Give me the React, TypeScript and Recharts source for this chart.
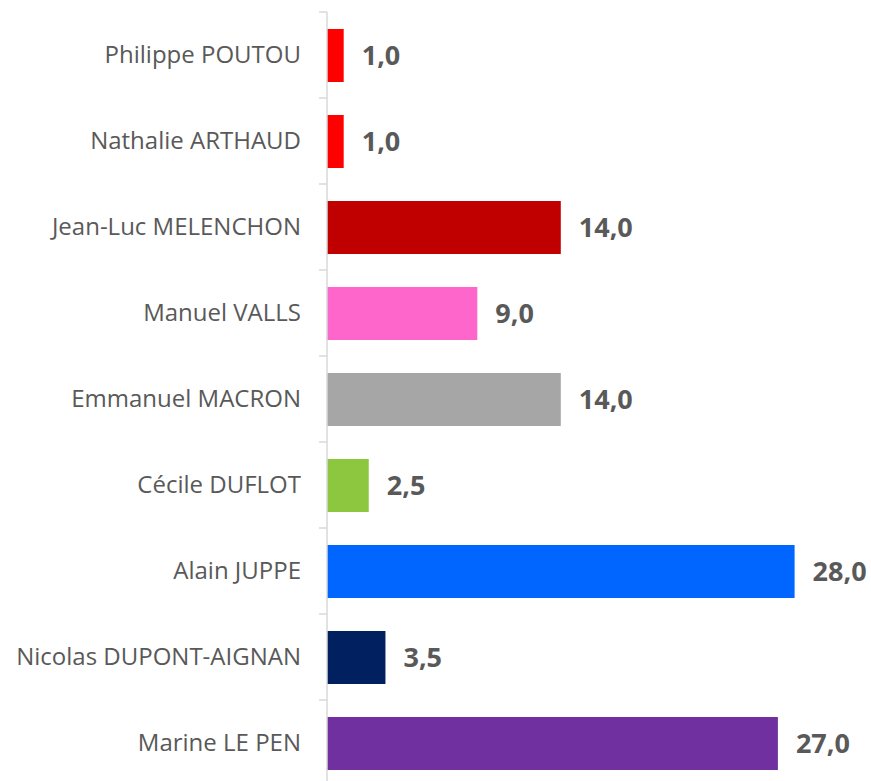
import { BarChart, Bar, XAxis, YAxis, Cell, LabelList } from "recharts";

const candidates = [
  "Philippe POUTOU",
  "Nathalie ARTHAUD",
  "Jean-Luc MELENCHON",
  "Manuel VALLS",
  "Emmanuel MACRON",
  "Cécile DUFLOT",
  "Alain JUPPE",
  "Nicolas DUPONT-AIGNAN",
  "Marine LE PEN",
];
const scores = [1.0, 1.0, 14.0, 9.0, 14.0, 2.5, 28.0, 3.5, 27.0];
const barColors = ["#FF0000", "#FF0000", "#C00000", "#FF66CC", "#A6A6A6", "#8DC63F", "#0066FF", "#002060", "#7030A0"];

const data = candidates.map((name, i) => ({ name, score: scores[i] }));

const CHART_H = 790;
const MARGIN_TOP = 12;
const MARGIN_BOTTOM = 4;
const BAND = (CHART_H - MARGIN_TOP - MARGIN_BOTTOM) / candidates.length;
const FONT = "'Open Sans', sans-serif";
const TICK_SIZE = 8;
const TICK_MARGIN = 18;

// category ticks sit on the band boundaries, like the spreadsheet original
function CandidateTick({ x, y, payload }: any) {
  const axisX = x + TICK_SIZE + TICK_MARGIN;
  return (
    <g>
      <line x1={axisX - TICK_SIZE} x2={axisX} y1={y - BAND / 2} y2={y - BAND / 2} stroke="#D9D9D9" strokeWidth={1.5} />
      <text x={x} y={y} dy={8} textAnchor="end" fill="#595959" fontSize={24} fontFamily={FONT}>
        {payload.value}
      </text>
    </g>
  );
}

export default function App() {
  return (
    <div style={{ position: "absolute", left: 0, top: 0, width: 871, height: 781, overflow: "hidden", background: "#fff" }}>
      <BarChart
        width={871}
        height={CHART_H}
        data={data}
        layout="vertical"
        margin={{ top: MARGIN_TOP, right: 43, bottom: MARGIN_BOTTOM, left: 0 }}
        barSize={53}
      >
        <XAxis type="number" domain={[0, 30]} hide />
        <YAxis
          type="category"
          dataKey="name"
          width={327}
          tickLine={false}
          tickSize={TICK_SIZE}
          tickMargin={TICK_MARGIN}
          axisLine={{ stroke: "#D9D9D9", strokeWidth: 1.5 }}
          tick={<CandidateTick />}
        />
        <Bar dataKey="score" isAnimationActive={false}>
          {data.map((d, i) => (
            <Cell key={d.name} fill={barColors[i]} />
          ))}
          <LabelList
            dataKey="score"
            position="right"
            offset={18}
            formatter={(v: any) => Number(v).toFixed(1).replace(".", ",")}
            style={{ fill: "#595959", fontSize: 27, fontWeight: 700, fontFamily: FONT }}
          />
        </Bar>
      </BarChart>
    </div>
  );
}
